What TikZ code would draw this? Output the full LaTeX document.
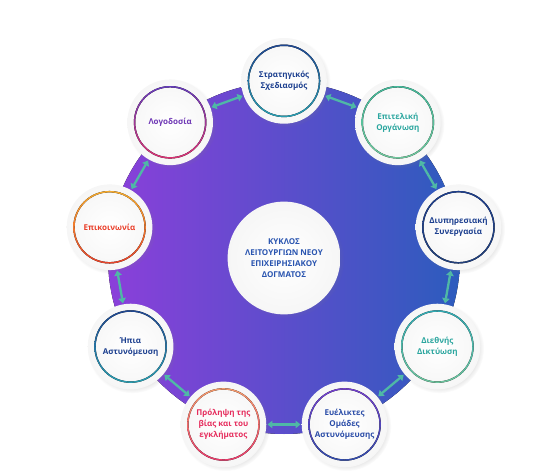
\documentclass[tikz,border=0pt]{standalone}
\usepackage{fontspec}
\setmainfont{Open Sans}
\usetikzlibrary{arrows.meta, shadows, fadings}

\definecolor{bigl}{HTML}{8B3FDA}
\definecolor{bigr}{HTML}{2C5CBD}
\definecolor{arrteal}{HTML}{4FB8A6}
\definecolor{ctrtxt}{HTML}{2A55B0}
\definecolor{navyA}{HTML}{1E3F8F}
\definecolor{tealA}{HTML}{2AA7B5}
\definecolor{greenA}{HTML}{3FB89A}
\definecolor{greenB}{HTML}{72C89C}
\definecolor{tealT}{HTML}{2BA69F}
\definecolor{navyB}{HTML}{22407A}
\definecolor{navyT}{HTML}{1C3F8F}
\definecolor{purA}{HTML}{7A3ED2}
\definecolor{bluA}{HTML}{2B4DA8}
\definecolor{orgA}{HTML}{F6A46B}
\definecolor{pinkA}{HTML}{E8306B}
\definecolor{pinkT}{HTML}{E62E5E}
\definecolor{yelA}{HTML}{F7B52E}
\definecolor{redA}{HTML}{E8392A}
\definecolor{redT}{HTML}{EA3F2A}
\definecolor{violA}{HTML}{5B3CC4}
\definecolor{violT}{HTML}{6E37B5}

\begin{document}
\begin{tikzpicture}[st/.style 2 args={circle, minimum size=3cm, inner sep=0pt, align=center, inner color=white, outer color=gray!7, circular drop shadow={shadow scale=1.05, opacity=0.22}, font=\fontsize{8}{11}\selectfont\bfseries, path picture={\fill[even odd rule, top color=#1, bottom color=#2] (path picture bounding box.center) circle (1.27cm) circle (1.22cm);}},
  ctr/.style={circle, minimum size=3.95cm, inner sep=0pt, align=center, inner color=white, outer color=gray!7, circular drop shadow={shadow scale=1.04, opacity=0.22}, text=ctrtxt, font=\fontsize{8}{11}\selectfont\bfseries},
  arr/.style={{Triangle[length=5pt,width=7.5pt]}-{Triangle[length=5pt,width=7.5pt]}, line width=2.3pt, arrteal, shorten >=1pt, shorten <=1pt}]
  \useasboundingbox (-9.94,-7.53) rectangle (8.75,9.03);
  \fill[left color=bigl, right color=bigr] (0,0) circle (6.16cm);

  \node[ctr](core){ΚΥΚΛΟΣ\\ΛΕΙΤΟΥΡΓΙΩΝ ΝΕΟΥ\\ΕΠΙΧΕΙΡΗΣΙΑΚΟΥ\\ΔΟΓΜΑΤΟΣ};
  \node[st={navyA}{tealA}, text=navyT] (strat) at (90:6.2) {Στρατηγικός\\Σχεδιασμός};
  \node[st={greenA}{greenB}, text=tealT] (epit) at (50:6.2) {Επιτελική\\Οργάνωση};
  \node[st={navyA}{navyB}, text=navyT] (diyp) at (10:6.2) {Διυπηρεσιακή\\Συνεργασία};
  \node[st={tealA}{greenB}, text=tealT] (dieth) at (-30:6.2) {Διεθνής\\Δικτύωση};
  \node[st={purA}{bluA}, text=bluA] (omad) at (-70:6.2) {Ευέλικτες\\Ομάδες\\Αστυνόμευσης};
  \node[st={orgA}{pinkA}, text=pinkT] (prol) at (-110:6.2) {Πρόληψη της\\βίας και του\\εγκλήματος};
  \node[st={navyA}{tealA}, text=navyT] (ipia) at (-150:6.2) {Ήπια\\Αστυνόμευση};
  \node[st={yelA}{redA}, text=redT] (epik) at (170:6.2) {Επικοινωνία};
  \node[st={violA}{pinkA}, text=violT] (logo) at (130:6.2) {Λογοδοσία};

  \draw[arr] (logo)--(strat);
  \draw[arr] (strat)--(epit);
  \draw[arr] (epit)--(diyp);
  \draw[arr] (diyp)--(dieth);
  \draw[arr] (dieth)--(omad);
  \draw[arr] (omad)--(prol);
  \draw[arr] (prol)--(ipia);
  \draw[arr] (ipia)--(epik);
  \draw[arr] (epik)--(logo);
\end{tikzpicture}
\end{document}
